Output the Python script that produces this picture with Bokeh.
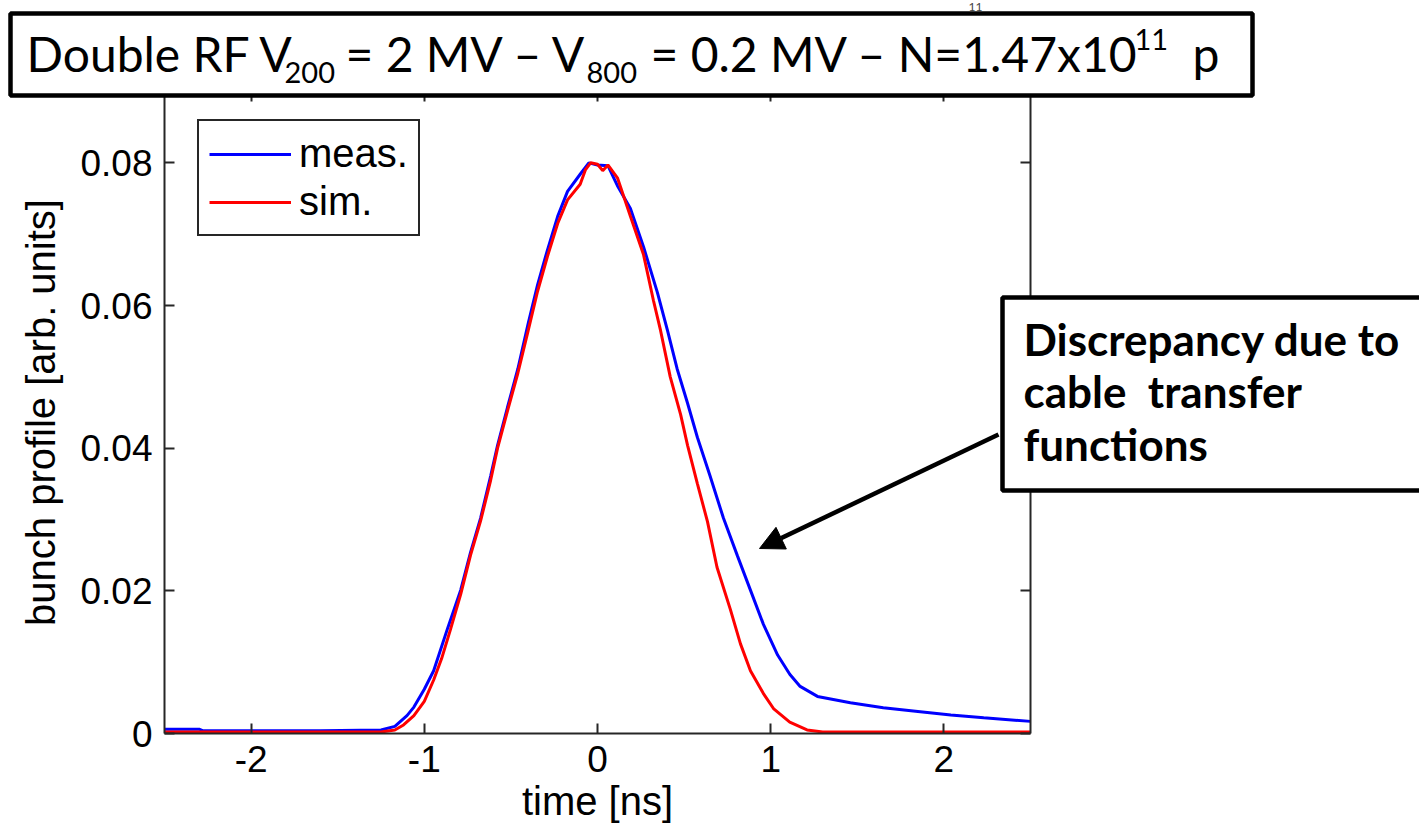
import numpy as np
from bokeh.plotting import figure
from bokeh.models import (LinearAxis, FixedTicker, Label, BoxAnnotation, Arrow,
                          NormalHead, Range1d)
from bokeh.embed import file_html
from bokeh.resources import INLINE

# ---------------- data ----------------
meas_t = [-2.50, -2.30, -2.28, -1.60, -1.25, -1.17, -1.10, -1.06, -1.00, -0.946,
          -0.866, -0.79, -0.733, -0.675, -0.617, -0.577, -0.52, -0.46, -0.40, -0.346,
          -0.29, -0.23, -0.173, -0.10, -0.05, 0.00, 0.06, 0.115, 0.19, 0.266,
          0.346, 0.404, 0.46, 0.52, 0.577, 0.65, 0.727, 0.808, 0.883, 0.958,
          1.04, 1.11, 1.17, 1.27, 1.46, 1.65, 1.85, 2.04, 2.23, 2.50]
meas_v = [0.0006, 0.0006, 0.0004, 0.0004, 0.0005, 0.0010, 0.0025, 0.0037, 0.0062, 0.0088,
          0.0147, 0.0201, 0.0254, 0.0302, 0.0361, 0.0404, 0.0457, 0.0511, 0.0575, 0.0629,
          0.0677, 0.0725, 0.0760, 0.0784, 0.0800, 0.0797, 0.0796, 0.0768, 0.0736, 0.0682,
          0.0618, 0.0565, 0.0511, 0.0463, 0.0415, 0.0361, 0.0302, 0.0249, 0.0201, 0.0153,
          0.0110, 0.0083, 0.0066, 0.0052, 0.0043, 0.0036, 0.0031, 0.0026, 0.0022, 0.0017]

sim_t = [-2.50, -1.25, -1.17, -1.12, -1.06, -1.00, -0.946, -0.90, -0.85, -0.79,
         -0.733, -0.675, -0.617, -0.577, -0.52, -0.46, -0.40, -0.346, -0.29, -0.23,
         -0.173, -0.10, -0.07, -0.04, 0.00, 0.03, 0.06, 0.115, 0.19, 0.266,
         0.323, 0.364, 0.42, 0.48, 0.52, 0.577, 0.635, 0.69, 0.767, 0.825,
         0.883, 0.958, 1.016, 1.11, 1.21, 1.30, 2.50]
sim_v = [0.0002, 0.0002, 0.0005, 0.0012, 0.0025, 0.0045, 0.0075, 0.0105, 0.0145, 0.0195,
         0.0250, 0.0298, 0.0355, 0.0400, 0.0452, 0.0505, 0.0565, 0.0620, 0.0668, 0.0715,
         0.0748, 0.0770, 0.0790, 0.0800, 0.0798, 0.0789, 0.0797, 0.0779, 0.0725, 0.0671,
         0.0607, 0.0565, 0.0500, 0.0447, 0.0404, 0.0350, 0.0297, 0.0233, 0.0174, 0.0126,
         0.0088, 0.0056, 0.0035, 0.0016, 0.0005, 0.0002, 0.0002]

x_ticks = [-2, -1, 0, 1, 2]
x_tick_labels = ["-2", "-1", "0", "1", "2"]
y_ticks = [0, 0.02, 0.04, 0.06, 0.08]
y_tick_labels = ["0", "0.02", "0.04", "0.06", "0.08"]

x_label = "time [ns]"
y_label = "bunch profile [arb. units]"
series_names = ["meas.", "sim."]
note_lines = ["Discrepancy due to", "cable \u00a0transfer", "functions"]

# ---------------- layout ----------------
W, H = 1419, 830
FL, FR, FT, FB = 164, 1030, 91, 733      # axes box in canvas pixels
X0, X1 = -2.5, 2.5
Y0, Y1 = 0.0, 0.09


def dx(px):
    return X0 + (px - FL) * (X1 - X0) / (FR - FL)


def dy(py):
    return Y0 + (FB - py) * (Y1 - Y0) / (FB - FT)


p = figure(width=W, height=H, x_range=Range1d(dx(0), dx(W)), y_range=Range1d(dy(H), dy(0)),
           output_backend="svg", toolbar_location=None,
           min_border_left=0, min_border_right=0, min_border_top=0, min_border_bottom=0)
p.background_fill_color = "white"
p.border_fill_color = "white"
p.outline_line_color = None
p.xgrid.visible = False
p.ygrid.visible = False

AX_COL = "#262626"
TICK_FONT = "Liberation Sans"


def style_axis(ax, ticks, labels, show_labels=True):
    ax.ticker = FixedTicker(ticks=ticks)
    ax.major_label_overrides = {t: l for t, l in zip(ticks, labels)}
    ax.axis_line_color = AX_COL
    ax.axis_line_width = 2
    ax.major_tick_line_color = AX_COL
    ax.major_tick_line_width = 2
    ax.major_tick_in = 10
    ax.major_tick_out = 0
    ax.minor_tick_line_color = None
    ax.major_label_text_font = TICK_FONT
    ax.major_label_text_font_size = "37px"
    ax.major_label_text_color = "black" if show_labels else None
    ax.major_label_standoff = 12


xa = p.xaxis[0]
ya = p.yaxis[0]
style_axis(xa, x_ticks, x_tick_labels)
style_axis(ya, y_ticks, y_tick_labels)
xa.fixed_location = Y0
xa.bounds = (X0, X1)
ya.fixed_location = X0
ya.bounds = (Y0, Y1)
xa.axis_label = x_label
ya.axis_label = y_label
for ax in (xa, ya):
    ax.axis_label_text_font = TICK_FONT
    ax.axis_label_text_font_size = "40px"
    ax.axis_label_text_font_style = "normal"
    ax.axis_label_text_color = "black"
xa.axis_label_standoff = 4
ya.axis_label_standoff = 14

top_ax = LinearAxis(fixed_location=Y1, bounds=(X0, X1))
right_ax = LinearAxis(fixed_location=X1, bounds=(Y0, Y1))
style_axis(top_ax, x_ticks, x_tick_labels, show_labels=False)
style_axis(right_ax, y_ticks, y_tick_labels, show_labels=False)
p.add_layout(top_ax, "above")
p.add_layout(right_ax, "right")

# ---------------- curves ----------------
p.line(meas_t, meas_v, line_color="#0000FF", line_width=3, legend_label=series_names[0])
p.line(sim_t, sim_v, line_color="#FF0000", line_width=3, legend_label=series_names[1])

lg = p.legend[0]
lg.location = (197, H - 236)
lg.border_line_color = AX_COL
lg.border_line_width = 2
lg.border_line_alpha = 1
lg.background_fill_color = "white"
lg.background_fill_alpha = 1
lg.label_text_font = TICK_FONT
lg.label_text_font_size = "40px"
lg.label_text_color = "black"
lg.glyph_width = 82
lg.glyph_height = 44
lg.label_height = 44
lg.label_standoff = 8
lg.spacing = 3
lg.padding = 10
lg.margin = 0


def text_label(txt, px, base, fs, align="left", bold=False, color="black"):
    # base = wanted baseline in canvas pixels; Bokeh's anchor sits ~0.38 em above it
    return Label(x=dx(px), y=dy(base - 0.38 * fs), text=txt, text_font="Lato",
                 text_font_style="bold" if bold else "normal",
                 text_font_size=f"{fs}px", text_color=color,
                 text_baseline="alphabetic", text_align=align)


# ---------------- annotation box + arrow ----------------
p.add_layout(Arrow(end=NormalHead(size=24, fill_color="black", line_color="black"),
                   x_start=dx(998), y_start=dy(434), x_end=dx(759), y_end=dy(548),
                   line_color="black", line_width=4.5))

p.add_layout(BoxAnnotation(left=dx(1002), right=dx(1440), top=dy(297), bottom=dy(490),
                           fill_color="white", fill_alpha=1.0,
                           line_color="black", line_width=4.5, line_alpha=1.0))
for line, base in zip(note_lines, [355, 407, 460]):
    p.add_layout(text_label(line, 1023, base, 44, bold=True))

# ---------------- title box ----------------
p.add_layout(Label(x=dx(968), y=dy(2), text="11", text_font="Lato",
                   text_font_size="12px", text_color="#444444",
                   text_baseline="top", text_align="left"))
p.add_layout(BoxAnnotation(left=dx(10), right=dx(1252), top=dy(13), bottom=dy(95),
                           fill_color="white", fill_alpha=1.0,
                           line_color="black", line_width=4.5, line_alpha=1.0))
title_parts = [
    ("Double RF V", 26, 71, 48),
    ("200", 284, 83, 29),
    ("= 2 MV \u2013 V", 345, 71, 48),
    ("800", 586, 83, 29),
    ("= 0.2 MV \u2013 N=1.47x10", 650, 71, 48),
    ("11", 1134, 50, 29),
    ("p", 1192, 71, 48),
]
for txt, px, base, fs in title_parts:
    p.add_layout(text_label(txt, px, base, fs))

open("out.html", "w").write(file_html(p, INLINE))
